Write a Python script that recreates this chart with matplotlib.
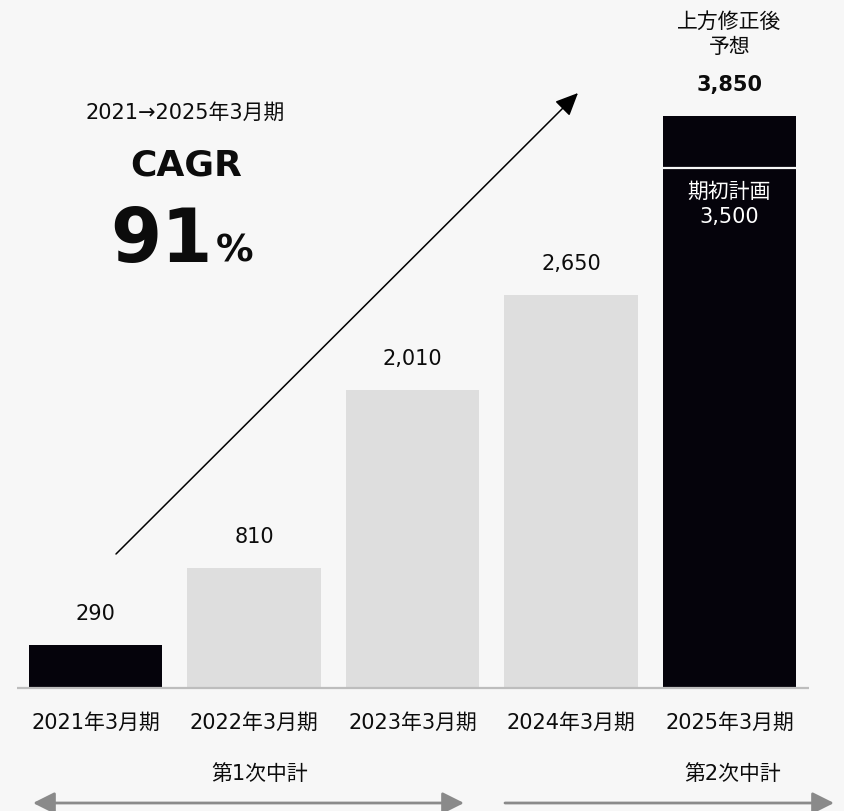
import matplotlib.pyplot as plt

periods = ['2021年3月期', '2022年3月期', '2023年3月期', '2024年3月期', '2025年3月期']
values = [290, 810, 2010, 2650, 3850]
value_labels = ['290', '810', '2,010', '2,650', '3,850']
plan_value = 3500
plan_label = '期初計画\n3,500'
highlight = [True, False, False, False, True]

BG = '#F7F7F7'
DARK = '#05030B'
LIGHT = '#DEDEDE'
TXT = '#0C0C0C'
FS = 15
plt.rcParams['font.family'] = ['DejaVu Sans', 'Noto Sans CJK JP']

W, H = 845, 812
fig = plt.figure(figsize=(W / 100, H / 100), dpi=100)
fig.patch.set_facecolor(BG)


def fp(x, y):
    # pixel position measured from top-left -> figure fraction
    return x / W, 1 - y / H


ax = fig.add_axes([0, 0, 1, 1])
ax.set_facecolor(BG)
ax.set_xlim(-0.6025, 4.729)
ax.set_ylim(-828, 4640)
ax.axis('off')

pos = list(range(len(values)))
colors = [DARK if h else LIGHT for h in highlight]
ax.bar(pos, values, width=0.84, color=colors, zorder=2)
ax.hlines(0, -0.495, 4.50, color='#BDBDBD', lw=1.6, zorder=3)

# white divider showing the original plan inside the last bar
ax.hlines(plan_value, 4 - 0.42, 4 + 0.42, color=BG, lw=1.6, zorder=3)
ax.annotate(plan_label, (4, plan_value), xytext=(0, -9), textcoords='offset points',
            ha='center', va='top', color='white', fontsize=FS, linespacing=1.35)

for i, (v, lab) in enumerate(zip(values, value_labels)):
    last = i == len(values) - 1
    ax.annotate(lab, (i, v), xytext=(0, 23), textcoords='offset points',
                ha='center', va='center', fontsize=FS, color=TXT,
                fontweight='bold' if last else 'normal')

fig.text(*fp(729.5, 47), '予想', ha='center', va='center', fontsize=FS, color=TXT)
fig.text(*fp(729.5, 22), '上方修正後', ha='center', va='center', fontsize=FS, color=TXT)

# category labels under the baseline
for i, p in enumerate(periods):
    ax.annotate(p, (i, 0), xytext=(0, -24), textcoords='offset points',
                ha='center', va='center', fontsize=FS, color=TXT)

# CAGR block
fig.text(*fp(185, 113), '2021→2025年3月期', ha='center', va='center', fontsize=FS, color=TXT)
fig.text(*fp(186, 166), 'CAGR', ha='center', va='center', fontsize=26, fontweight='bold', color=TXT)
fig.text(*fp(213, 262), '91', ha='right', va='baseline', fontsize=53, fontweight='bold', color=TXT)
fig.text(*fp(216, 262), '%', ha='left', va='baseline', fontsize=27, fontweight='bold', color=TXT)

# growth arrow
ax.annotate('', xy=fp(578, 94), xycoords='figure fraction',
            xytext=fp(116, 555), textcoords='figure fraction',
            arrowprops=dict(arrowstyle='-|>,head_length=1.0,head_width=0.45',
                            mutation_scale=14, color='black', lw=1.1,
                            shrinkA=0, shrinkB=0))

# mid-term plan ranges
fig.text(*fp(260, 774), '第1次中計', ha='center', va='center', fontsize=FS, color=TXT)
fig.text(*fp(733, 774), '第2次中計', ha='center', va='center', fontsize=FS, color=TXT)
arrow_kw = dict(mutation_scale=11, color='#8A8A8A', lw=2.0, shrinkA=0, shrinkB=0)
ax.annotate('', xy=fp(464, 804), xycoords='figure fraction',
            xytext=fp(33, 804), textcoords='figure fraction',
            arrowprops=dict(arrowstyle='<|-|>,head_length=1.2,head_width=0.6', **arrow_kw))
ax.annotate('', xy=fp(834, 804), xycoords='figure fraction',
            xytext=fp(505, 804), textcoords='figure fraction',
            arrowprops=dict(arrowstyle='-|>,head_length=1.2,head_width=0.6', **arrow_kw))

fig.savefig('out.png', dpi=100, facecolor=BG)
